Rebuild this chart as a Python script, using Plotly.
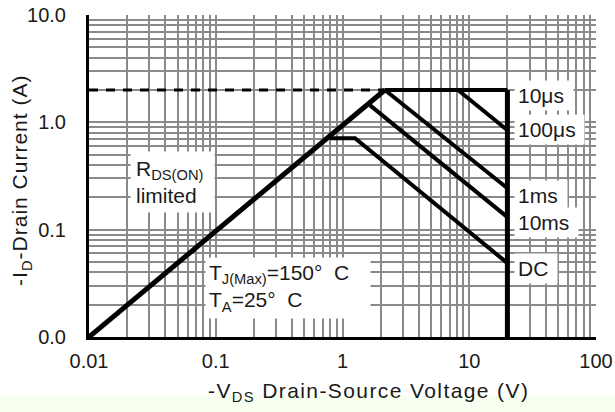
import math
import plotly.graph_objects as go

# ---- data ----
V_MIN, V_MAX = 0.01, 100
I_MIN, I_MAX = 0.01, 10
x_tick_vals = [0.01, 0.1, 1, 10, 100]
x_tick_text = ["0.01", "0.1", "1", "10", "100"]
y_tick_vals = [0.01, 0.1, 1, 10]
y_tick_text = ["0.0", "0.1", "1.0", "10.0"]

rds_v = [0.01, 2.16]
rds_i = [0.01, 2.0]
dash_v = [0.01, 2.16]
dash_i = [2.0, 2.0]
us10_v = [2.16, 20]
us10_i = [2.0, 2.0]
us100_v = [8.15, 20]
us100_i = [2.0, 0.843]
ms1_v = [2.16, 20]
ms1_i = [2.0, 0.243]
ms10_v = [1.65, 20]
ms10_i = [1.44, 0.131]
dc_v = [0.797, 1.256, 20]
dc_i = [0.71, 0.71, 0.0488]
vmax_v = [20, 20]
vmax_i = [0.01, 2.0]

curve_labels = ["10\u03bcs", "100\u03bcs", "1ms", "10ms", "DC"]
label_v = [22.5, 22.5, 22.5, 22.5, 22.5]
label_i = [1.78, 0.861, 0.209, 0.117, 0.0439]

FONT = "Liberation Sans, Arial, sans-serif"
FS_TICK = 20
FS_TXT = 21
TXT = "#1a1a1a"

fig = go.Figure()

def add_line(xs, ys, width=4, dash="solid"):
    fig.add_trace(go.Scatter(x=xs, y=ys, mode="lines",
                             line=dict(color="black", width=width, dash=dash),
                             showlegend=False, hoverinfo="skip"))

add_line(dash_v, dash_i, width=3, dash="9px,8px")
add_line(rds_v, rds_i, width=5)
add_line(us10_v, us10_i)
add_line(us100_v, us100_i)
add_line(ms1_v, ms1_i)
add_line(ms10_v, ms10_i)
add_line(dc_v, dc_i)
add_line(vmax_v, vmax_i, width=5)

annotations = []
for txt, lv, li in zip(curve_labels, label_v, label_i):
    annotations.append(dict(x=math.log10(lv), y=math.log10(li), xref="x", yref="y",
                            text=txt + "&nbsp;", showarrow=False, xanchor="left",
                            yanchor="middle", bgcolor="white", borderpad=3,
                            font=dict(family=FONT, size=FS_TXT, color=TXT)))

annotations.append(dict(x=math.log10(0.0211), y=math.log10(0.277), xref="x", yref="y",
                        text="R<sub>DS(ON)</sub>&nbsp;<br>limited", showarrow=False,
                        xanchor="left", yanchor="middle", align="left",
                        bgcolor="white", borderpad=5,
                        font=dict(family=FONT, size=FS_TXT, color=TXT)))
annotations.append(dict(x=math.log10(0.0822), y=math.log10(0.0286), xref="x", yref="y",
                        text="T<sub>J(Max)</sub>=150\u00b0  C&nbsp;&nbsp;&nbsp;<br>T<sub>A</sub>=25\u00b0  C",
                        showarrow=False,
                        xanchor="left", yanchor="middle", align="left",
                        bgcolor="white", borderpad=3,
                        font=dict(family=FONT, size=FS_TXT, color=TXT)))

# axis titles placed as paper annotations
annotations.append(dict(x=-0.134, y=0.485, xref="paper", yref="paper",
                        text='<span style="letter-spacing:1px">-I<sub>D</sub>-Drain Current (A)</span>',
                        textangle=-90,
                        showarrow=False, xanchor="center", yanchor="middle",
                        font=dict(family=FONT, size=FS_TXT, color=TXT)))
annotations.append(dict(x=0.552, y=-0.172, xref="paper", yref="paper",
                        text='<span style="letter-spacing:1.4px">-V<sub>DS</sub> Drain-Source Voltage (V)</span>',
                        showarrow=False, xanchor="center", yanchor="middle",
                        font=dict(family=FONT, size=FS_TXT, color=TXT)))

fig.update_layout(
    width=615, height=412,
    margin=dict(l=89, r=19, t=15, b=75, autoexpand=False),
    paper_bgcolor="white", plot_bgcolor="white",
    font=dict(family=FONT, size=FS_TICK, color=TXT),
    annotations=annotations,
    shapes=[dict(type="rect", xref="paper", yref="paper", x0=-0.2, x1=1.1,
                 y0=-0.24, y1=-0.18, fillcolor="#f6fff0", line=dict(width=0),
                 layer="below")],
    xaxis=dict(type="log", range=[math.log10(V_MIN), math.log10(V_MAX)],
               tickvals=x_tick_vals, ticktext=x_tick_text, ticks="",
               ticklabelstandoff=4, automargin=False,
               showgrid=True, gridcolor="#8a8a8a", gridwidth=2,
               minor=dict(showgrid=True, gridcolor="#8a8a8a", gridwidth=2,
                          dtick="D1", ticks=""),
               showline=True, linecolor="black", linewidth=3, mirror=False,
               zeroline=False,
               tickfont=dict(family=FONT, size=FS_TICK, color=TXT)),
    yaxis=dict(type="log", range=[math.log10(I_MIN), math.log10(I_MAX)],
               tickvals=y_tick_vals, ticktext=y_tick_text, ticks="",
               ticklabelstandoff=16, automargin=False,
               showgrid=True, gridcolor="#8a8a8a", gridwidth=2,
               minor=dict(showgrid=True, gridcolor="#8a8a8a", gridwidth=2,
                          dtick="D1", ticks=""),
               showline=True, linecolor="black", linewidth=3, mirror=False,
               zeroline=False,
               tickfont=dict(family=FONT, size=FS_TICK, color=TXT)),
)

fig.write_html("out.html", config={"displayModeBar": False},
               post_script="document.body.style.margin='0';document.body.style.padding='0';")
